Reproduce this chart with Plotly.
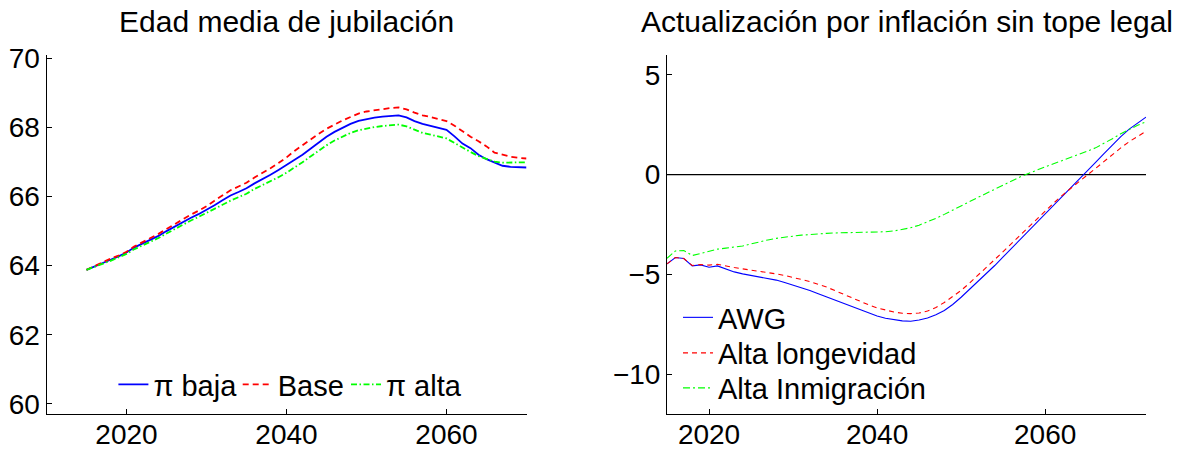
import plotly.graph_objects as go

# ---------------- Edad media de jubilación ----------------
years_left = list(range(2015, 2071))

pi_baja = [63.88, 63.97, 64.07, 64.17, 64.27, 64.38, 64.53, 64.64, 64.73, 64.86,
           65.00, 65.13, 65.27, 65.38, 65.49, 65.61, 65.75, 65.89, 66.03, 66.13,
           66.24, 66.38, 66.50, 66.63, 66.77, 66.91, 67.06, 67.21, 67.38, 67.56,
           67.73, 67.87, 67.99, 68.10, 68.19, 68.24, 68.28, 68.31, 68.33, 68.35,
           68.29, 68.18, 68.10, 68.05, 67.99, 67.93, 67.74, 67.53, 67.40, 67.21,
           67.08, 66.98, 66.89, 66.86, 66.85, 66.84]

base = [63.88, 63.99, 64.09, 64.20, 64.29, 64.40, 64.56, 64.68, 64.78, 64.92,
        65.06, 65.20, 65.35, 65.47, 65.59, 65.72, 65.88, 66.04, 66.18, 66.29,
        66.40, 66.55, 66.68, 66.82, 66.97, 67.13, 67.32, 67.49, 67.65, 67.81,
        67.96, 68.09, 68.20, 68.30, 68.40, 68.46, 68.50, 68.53, 68.56, 68.58,
        68.52, 68.43, 68.35, 68.30, 68.24, 68.18, 68.05, 67.88, 67.73, 67.60,
        67.45, 67.27, 67.20, 67.15, 67.12, 67.10]

pi_alta = [63.88, 63.96, 64.05, 64.14, 64.24, 64.34, 64.48, 64.59, 64.68, 64.80,
           64.93, 65.06, 65.19, 65.30, 65.41, 65.52, 65.64, 65.76, 65.88, 65.98,
           66.08, 66.22, 66.33, 66.44, 66.56, 66.69, 66.83, 66.99, 67.16, 67.33,
           67.48, 67.62, 67.73, 67.84, 67.92, 67.97, 68.01, 68.04, 68.06, 68.08,
           68.03, 67.93, 67.84, 67.79, 67.74, 67.68, 67.55, 67.41, 67.29, 67.17,
           67.08, 67.01, 66.98, 66.98, 66.99, 66.99]

# ---------------- Actualización por inflación sin tope legal ----------------
years_right = list(range(2015, 2073))

awg = [-4.47, -4.15, -4.20, -4.57, -4.52, -4.64, -4.57, -4.73, -4.87, -4.97,
       -5.05, -5.12, -5.19, -5.28, -5.40, -5.53, -5.66, -5.80, -5.96, -6.12,
       -6.28, -6.45, -6.62, -6.78, -6.94, -7.08, -7.19, -7.27, -7.32, -7.34,
       -7.28, -7.18, -7.02, -6.80, -6.50, -6.14, -5.75, -5.35, -4.97, -4.55,
       -4.12, -3.69, -3.26, -2.83, -2.40, -1.97, -1.55, -1.13, -0.71, -0.30,
       0.17, 0.61, 1.05, 1.48, 1.90, 2.28, 2.60, 2.88]

alta_longevidad = [-4.47, -4.15, -4.20, -4.55, -4.50, -4.53, -4.49, -4.58, -4.65, -4.72,
                   -4.78, -4.83, -4.90, -4.97, -5.05, -5.14, -5.25, -5.36, -5.48, -5.63,
                   -5.81, -5.99, -6.17, -6.34, -6.52, -6.67, -6.79, -6.88, -6.94, -6.96,
                   -6.93, -6.83, -6.65, -6.40, -6.10, -5.80, -5.43, -5.05, -4.66, -4.25,
                   -3.85, -3.44, -3.03, -2.62, -2.22, -1.82, -1.43, -1.05, -0.69, -0.36,
                   -0.03, 0.32, 0.67, 1.01, 1.34, 1.65, 1.93, 2.17]

alta_inmigracion = [-4.19, -3.82, -3.80, -4.05, -3.95, -3.85, -3.73, -3.68, -3.63, -3.57,
                    -3.47, -3.36, -3.27, -3.19, -3.12, -3.08, -3.03, -2.99, -2.96, -2.94,
                    -2.92, -2.91, -2.91, -2.91, -2.90, -2.88, -2.86, -2.82, -2.75, -2.66,
                    -2.53, -2.37, -2.19, -1.99, -1.79, -1.57, -1.35, -1.14, -0.93, -0.72,
                    -0.51, -0.32, -0.12, 0.06, 0.23, 0.39, 0.55, 0.70, 0.85, 1.01,
                    1.17, 1.34, 1.55, 1.80, 2.05, 2.28, 2.47, 2.65]

left_yticks = [60, 62, 64, 66, 68, 70]
right_yticks = [-10, -5, 0, 5]
xticks = [2020, 2040, 2060]

FONT = "Liberation Sans, Arial, Helvetica, sans-serif"
FS = 29
TICK_FS = 28
TITLE_FS = 30
W, H = 1180, 452

BLUE, RED, GREEN = "#0000ff", "#ff0000", "#00ff00"

fig = go.Figure()

# left panel series
fig.add_trace(go.Scatter(x=years_left, y=pi_baja, mode="lines", name="π baja",
                         line=dict(color=BLUE, width=1.8), xaxis="x", yaxis="y",
                         legend="legend"))
fig.add_trace(go.Scatter(x=years_left, y=base, mode="lines", name="Base",
                         line=dict(color=RED, width=1.8, dash="6px,4px"),
                         xaxis="x", yaxis="y", legend="legend2"))
fig.add_trace(go.Scatter(x=years_left, y=pi_alta, mode="lines", name="π alta",
                         line=dict(color=GREEN, width=1.8, dash="6px,2.5px,1.5px,2.5px"),
                         xaxis="x", yaxis="y", legend="legend3"))

# right panel: zero reference line
fig.add_trace(go.Scatter(x=[years_right[0], years_right[-1]], y=[0, 0], mode="lines",
                         line=dict(color="black", width=1.3), showlegend=False,
                         hoverinfo="skip", xaxis="x2", yaxis="y2"))

# right panel series
fig.add_trace(go.Scatter(x=years_right, y=awg, mode="lines", name="AWG",
                         line=dict(color=BLUE, width=1.1), xaxis="x2", yaxis="y2",
                         legend="legend4"))
fig.add_trace(go.Scatter(x=years_right, y=alta_longevidad, mode="lines",
                         name="Alta longevidad",
                         line=dict(color=RED, width=1.1, dash="5px,4px"),
                         xaxis="x2", yaxis="y2", legend="legend5"))
fig.add_trace(go.Scatter(x=years_right, y=alta_inmigracion, mode="lines",
                         name="Alta Inmigración",
                         line=dict(color=GREEN, width=1.1, dash="7px,3px,2px,3px"),
                         xaxis="x2", yaxis="y2", legend="legend6"))


def px(v):
    return v / W


def py(v):
    return 1 - v / H


axis_common = dict(showgrid=False, zeroline=False, showline=True, linecolor="black",
                   linewidth=1, mirror=False, ticks="inside", ticklen=5,
                   tickwidth=1, tickcolor="black", automargin=False,
                   tickfont=dict(family=FONT, size=TICK_FS, color="black"))

ydom = [py(414.3), py(54.8)]

legend_common = dict(orientation="v", bgcolor="rgba(0,0,0,0)", borderwidth=0,
                     font=dict(family=FONT, size=FS, color="black"),
                     itemwidth=30, xanchor="left", yanchor="middle",
                     itemclick=False, itemdoubleclick=False)

fig.update_layout(
    width=W, height=H, autosize=False,
    margin=dict(l=0, r=0, t=0, b=0, pad=0, autoexpand=False),
    paper_bgcolor="white", plot_bgcolor="white",
    font=dict(family=FONT, size=FS, color="black"),
    xaxis=dict(axis_common, domain=[px(46.5), px(526.5)], range=[2010, 2070],
               tickvals=xticks, anchor="y", ticklabelstandoff=-5),
    yaxis=dict(axis_common, domain=ydom, range=[59.7, 70.1], tickvals=left_yticks,
               anchor="x"),
    xaxis2=dict(axis_common, domain=[px(667), px(1146)], range=[2015, 2072],
                tickvals=xticks, anchor="y2", ticklabelstandoff=-5),
    yaxis2=dict(axis_common, domain=ydom, range=[-12, 6], tickvals=right_yticks,
                anchor="x2"),
    legend=dict(legend_common, x=px(113.4), y=py(384.5)),
    legend2=dict(legend_common, x=px(237.7), y=py(384.5)),
    legend3=dict(legend_common, x=px(346), y=py(384.5)),
    legend4=dict(legend_common, x=px(678), y=py(317.5)),
    legend5=dict(legend_common, x=px(678), y=py(353)),
    legend6=dict(legend_common, x=px(678), y=py(388)),
    annotations=[
        dict(text="Edad media de jubilación", x=px(286), y=py(21.5), xref="paper",
             yref="paper", xanchor="center", yanchor="middle", showarrow=False,
             font=dict(family=FONT, size=TITLE_FS, color="black")),
        dict(text="Actualización por inflación sin tope legal", x=px(906.5),
             y=py(21.5), xref="paper", yref="paper", xanchor="center",
             yanchor="middle", showarrow=False,
             font=dict(family=FONT, size=TITLE_FS, color="black")),
    ],
)

fig.write_html("out.html")
